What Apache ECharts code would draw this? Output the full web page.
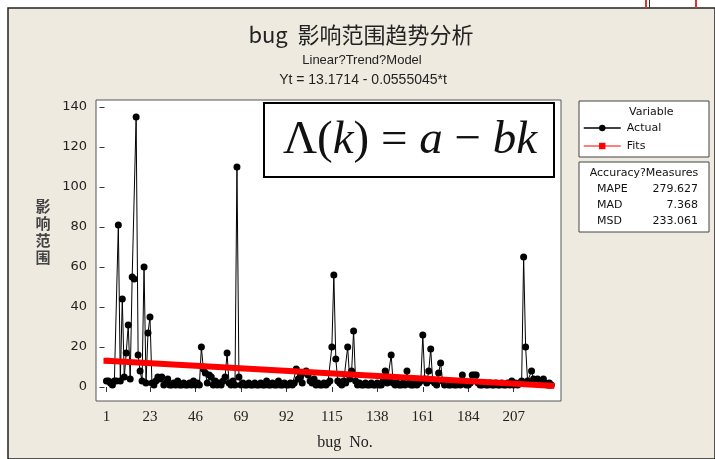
<!DOCTYPE html>
<html>
<head>
<meta charset="utf-8">
<script src="https://cdn.jsdelivr.net/npm/echarts@6/dist/echarts.min.js"></script>
<style>
html,body{margin:0;padding:0;background:#fff;}
#c{width:715px;height:459px;}
</style>
</head>
<body>
<div id="c"></div>
<script>
// Actual values (bug No. 1..226)
const actualValues = [
  3,3,2,1,3,3,81,3,44,5, 17,31,4,55,54,135,16,8,3,60,
  2,27,35,2,1,3,5,4,5,1, 2,4,1,1,2,1,3,1,1,2,
  1,1,2,1,3,1,2,1,20,9, 7,2,6,5,1,3,1,2,1,3,
  5,17,2,1,3,1,110,5,1,2, 1,1,2,1,1,2,1,1,2,1,
  1,3,1,1,2,1,1,3,1,1, 2,1,1,2,1,2,9,4,5,2,
  7,8,6,3,2,4,1,2,1,1, 2,1,2,3,20,56,14,3,2,1,
  3,2,20,4,8,28,3,1,2,1, 1,2,1,1,2,1,1,2,1,1,
  3,8,2,3,16,2,1,2,1,1, 2,1,8,2,1,1,2,1,2,3,
  26,4,2,8,19,3,2,1,7,12, 3,1,2,1,1,2,1,1,2,1,
  6,2,1,1,2,6,6,6,2,1, 1,2,1,1,2,1,1,2,1,1,
  2,1,1,2,1,3,1,2,1,2, 3,65,20,3,2,8,4,3,4,3,
  3,4,2,1,2,1
];
// Fits: straight trend line, end points
const fitsBugNo = [1, 226];
const fitsValues = [13.1, 0.6];
const xTicks = [1,23,46,69,92,115,138,161,184,207];
const yTicks = [0,20,40,60,80,100,120,140];
const accuracyNames = ['MAPE','MAD','MSD'];
const accuracyValues = ['279.627','7.368','233.061'];

const actualData = actualValues.map((v,i)=>[i+1, v]);
const fitsData = fitsBugNo.map((t,i)=>[t, fitsValues[i]]);

const chart = echarts.init(document.getElementById('c'), null, {renderer:'canvas'});

const graphics = [
  {type:'rect', shape:{x:0,y:0,width:715,height:459}, style:{fill:'#fff'}, z:-10, silent:true},
  {type:'rect', shape:{x:8,y:8,width:707,height:451}, style:{fill:'#EEEAE0', stroke:'#222', lineWidth:1.5}, z:-9, silent:true},
  {type:'rect', shape:{x:645,y:0,width:2,height:8}, style:{fill:'#d33'}, z:-8},
  {type:'rect', shape:{x:649,y:0,width:1,height:8}, style:{fill:'#333'}, z:-8},
  {type:'rect', shape:{x:695,y:0,width:2,height:8}, style:{fill:'#d33'}, z:-8},
  {type:'text', x:361, y:35, style:{text:'bug  影响范围趋势分析', fontFamily:'Noto Sans CJK SC', fontSize:22, fill:'#222', textAlign:'center', textVerticalAlign:'middle'}},
  {type:'text', x:362, y:60, style:{text:'Linear?Trend?Model', fontFamily:'Liberation Sans', fontSize:13, fill:'#222', textAlign:'center', textVerticalAlign:'middle'}},
  {type:'text', x:363, y:80, style:{text:'Yt = 13.1714 - 0.0555045*t', fontFamily:'Liberation Sans', fontSize:14, fill:'#222', textAlign:'center', textVerticalAlign:'middle'}},
  {type:'text', x:43, y:232, style:{text:'影\n响\n范\n围', fontFamily:'Noto Sans CJK SC', fontSize:15, fontWeight:'bold', lineHeight:17, fill:'#444', textAlign:'center', textVerticalAlign:'middle'}},
  {type:'text', x:345, y:443, style:{text:'bug  No.', fontFamily:'Liberation Serif', fontSize:16, fill:'#222', textAlign:'center', textVerticalAlign:'middle'}},
  // formula box
  {type:'rect', shape:{x:264,y:103,width:290,height:74}, style:{fill:'#fff', stroke:'#000', lineWidth:2}, z:20},
  {type:'text', x:410, y:141, z:21, style:{
    text:'{u|Λ(}{i|k}{u|) = }{i|a}{u| − }{i|bk}',
    textAlign:'center', textVerticalAlign:'middle',
    rich:{
      u:{fontFamily:'Liberation Serif', fontSize:47, fill:'#111'},
      i:{fontFamily:'Liberation Serif', fontSize:47, fontStyle:'italic', fill:'#111'}
    }}},
  // legend boxes
  {type:'rect', shape:{x:579,y:101,width:130,height:56}, style:{fill:'#fff', stroke:'#444', lineWidth:1}, z:5},
  {type:'text', x:629, y:112, z:6, style:{text:'Variable', fontFamily:'DejaVu Sans', fontSize:11, fill:'#111', textAlign:'left', textVerticalAlign:'middle'}},
  {type:'rect', shape:{x:579,y:162,width:130,height:70}, style:{fill:'#fff', stroke:'#444', lineWidth:1}, z:5},
  {type:'text', x:644, y:173, z:6, style:{text:'Accuracy?Measures', fontFamily:'DejaVu Sans', fontSize:11, fill:'#111', textAlign:'center', textVerticalAlign:'middle'}}
];
accuracyNames.forEach((n,i)=>{
  graphics.push({type:'text', x:597, y:189+i*16, z:6, style:{text:n, fontFamily:'DejaVu Sans', fontSize:11, fill:'#111', textAlign:'left', textVerticalAlign:'middle'}});
  graphics.push({type:'text', x:698, y:189+i*16, z:6, style:{text:accuracyValues[i], fontFamily:'DejaVu Sans', fontSize:11, fill:'#111', textAlign:'right', textVerticalAlign:'middle'}});
});

chart.setOption({
  animation:false,
  backgroundColor:'transparent',
  grid:{left:96, top:100, width:465, height:301, show:true, backgroundColor:'#fff', borderColor:'#555', borderWidth:1, containLabel:false},
  legend:{
    orient:'vertical', left:583, top:121, padding:0, itemWidth:37, itemHeight:8, itemGap:4, z:10,
    textStyle:{fontFamily:'DejaVu Sans', fontSize:11, color:'#111', padding:[0,0,0,1], lineHeight:14},
    data:[
      {name:'Actual', lineStyle:{width:1.5, color:'#000'}, itemStyle:{color:'#000'}},
      {name:'Fits', lineStyle:{width:1.5, color:'#f55'}, itemStyle:{color:'#f00'}}
    ]
  },
  xAxis:{
    type:'value', min:-4.3, max:230.9,
    axisLine:{show:false},
    splitLine:{show:false},
    axisTick:{show:true, length:5, lineStyle:{color:'#333'}, customValues:xTicks},
    axisLabel:{customValues:xTicks, margin:9, fontFamily:'Liberation Serif', fontSize:15, color:'#222'}
  },
  yAxis:{
    type:'value', min:-7, max:143.5,
    axisLine:{show:false},
    splitLine:{show:false},
    axisTick:{show:true, length:5, lineStyle:{color:'#333'}, customValues:yTicks},
    axisLabel:{customValues:yTicks, margin:9, fontFamily:'DejaVu Sans', fontSize:13, color:'#222'}
  },
  series:[
    {name:'Actual', type:'line', data:actualData, symbol:'circle', symbolSize:7, showSymbol:true,
     itemStyle:{color:'#000'}, lineStyle:{color:'#000', width:1}, z:2},
    {name:'Fits', type:'line', data:fitsData, symbol:'rect', symbolSize:6,
     itemStyle:{color:'#f00'}, lineStyle:{color:'#f00', width:6}, z:3}
  ],
  graphic:graphics
});
</script>
</body>
</html>
